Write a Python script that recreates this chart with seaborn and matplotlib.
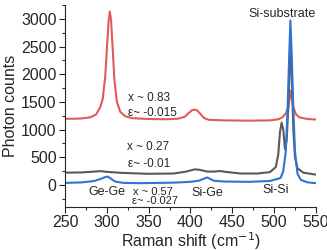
import matplotlib
matplotlib.use("Agg")
import matplotlib.pyplot as plt
from matplotlib.ticker import MultipleLocator
import seaborn as sns
import pandas as pd

sns.set_style("ticks")
plt.rcParams['font.family'] = ['Liberation Sans', 'DejaVu Sans']

# x ~ 0.83 (red)
red_shift = [250, 260, 270, 280, 287, 292, 295, 298, 300, 302, 303.5, 305, 307, 309, 312, 316, 322, 330,
             350, 370, 385, 393, 398, 402, 405, 408, 412, 416, 422, 440, 470, 495, 505, 510, 514,
             517, 519, 520, 521, 523, 526, 530, 540, 550]
red_counts = [1195, 1195, 1200, 1220, 1270, 1400, 1550, 1950, 2450, 2950, 3130, 2980, 2450, 1900, 1500, 1320, 1240, 1205,
              1190, 1185, 1195, 1230, 1300, 1350, 1360, 1345, 1280, 1210, 1175, 1165, 1160, 1165, 1185, 1220, 1290,
              1400, 1600, 1700, 1600, 1400, 1280, 1220, 1190, 1180]

# x ~ 0.27 (gray)
gray_shift = [250, 270, 285, 292, 300, 320, 350, 380, 395, 405, 410, 420, 428, 435, 442, 460, 480, 495,
              502, 505, 507, 509, 511, 513, 515, 517, 519, 520, 521, 523, 525, 528, 535, 550]
gray_counts = [220, 225, 240, 248, 235, 215, 200, 205, 240, 280, 275, 240, 240, 250, 235, 205, 205, 230,
               320, 550, 950, 1125, 1000, 650, 800, 1400, 2200, 2400, 2100, 1000, 500, 300, 220, 185]

# x ~ 0.57 (blue)
blue_shift = [250, 270, 285, 293, 298, 301, 304, 310, 320, 340, 360, 380, 400, 410, 416, 420, 423, 428,
              440, 470, 495, 502, 505, 508, 511, 514, 516, 518, 519.5, 521, 523, 525, 528, 532, 540, 550]
blue_counts = [35, 45, 70, 110, 140, 150, 120, 60, 35, 30, 35, 40, 55, 75, 110, 135, 110, 75,
               60, 55, 70, 100, 110, 130, 250, 600, 1300, 2300, 2970, 2400, 1400, 600, 200, 90, 45, 30]

fig = plt.figure(figsize=(3.27, 2.5), dpi=100)
ax = fig.add_axes([0.199, 0.172, 0.767, 0.808])

series = [(red_shift, red_counts, "#e05a5a"),
          (gray_shift, gray_counts, "#5a5a5a"),
          (blue_shift, blue_counts, "#2f74d0")]
for xs, ys, c in series:
    df = pd.DataFrame({"shift": xs, "counts": ys})
    sns.lineplot(data=df, x="shift", y="counts", color=c, lw=1.5, sort=False, ax=ax)

ax.set_xlim(250, 550)
ax.set_ylim(-400, 3250)
ax.xaxis.set_major_locator(MultipleLocator(50))
ax.xaxis.set_minor_locator(MultipleLocator(25))
ax.yaxis.set_major_locator(MultipleLocator(500))
ax.yaxis.set_minor_locator(MultipleLocator(250))
ax.tick_params(which="major", direction="out", length=4, width=0.8, labelsize=11.5, pad=2)
ax.tick_params(which="minor", direction="out", length=2, width=0.8)
sns.despine(ax=ax)

ax.set_xlabel("Raman shift (cm$^{-1}$)", fontsize=11.5, labelpad=0)
ax.set_ylabel("Photon counts", fontsize=11.5, labelpad=2)

ax.text(509, 3090, "Si-substrate", fontsize=9, ha="center", va="center")
ax.text(325, 1571, "x ~ 0.83", fontsize=8.5, ha="left", va="center")
ax.text(325, 1304, "ε~ -0.015", fontsize=8.5, ha="left", va="center")
ax.text(324, 679, "x ~ 0.27", fontsize=8.5, ha="left", va="center")
ax.text(325, 375, "ε~ -0.01", fontsize=8.5, ha="left", va="center")
ax.text(277.5, -125, "Ge-Ge", fontsize=9, ha="left", va="center")
ax.text(331, -125, "x ~ 0.57", fontsize=8, ha="left", va="center")
ax.text(330, -286, "ε~ -0.027", fontsize=8, ha="left", va="center")
ax.text(420, -143, "Si-Ge", fontsize=9, ha="center", va="center")
ax.text(502, -89, "Si-Si", fontsize=9, ha="center", va="center")

fig.savefig("out.png", dpi=100)
